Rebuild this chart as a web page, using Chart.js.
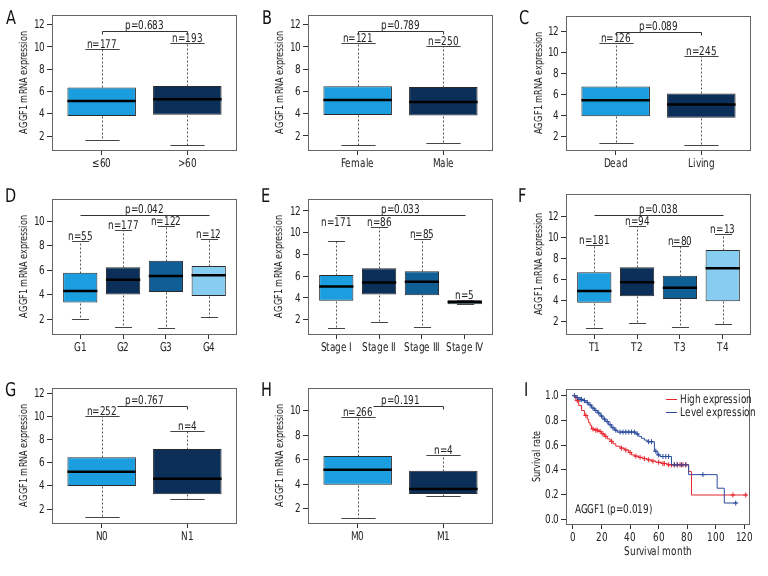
<!DOCTYPE html>
<html lang="en">
<head>
<meta charset="UTF-8">
<title>AGGF1 mRNA expression</title>
<script src="https://cdn.jsdelivr.net/npm/chart.js@4"></script>
<style>
  @font-face {
    font-family: "NarrowFace";
    src: local("Liberation Sans Narrow"), local("LiberationSansNarrow-Regular"),
         local("DejaVu Sans Condensed"), local("DejaVuSansCondensed"), local("DejaVuSans-Condensed");
  }
  body { margin: 0; background: #fff; }
  #wrap { position: relative; width: 768px; height: 576px; overflow: hidden; }
  #wrap canvas { position: absolute; }
  .tag { position: absolute; font-size: 19px; line-height: 20px; color: #111;
         font-family: "NarrowFace", sans-serif; transform: scaleX(0.85); transform-origin: left top; }
</style>
</head>
<body>
<div id="wrap"></div>
<script>
// ---- data: box stats are [min, q1, median, q3, max] ----
const ageGroups = ['≤60', '>60'];
const ageCounts = [177, 193];
const ageBoxes = [[1.61, 3.80, 5.14, 6.37, 9.79], [1.19, 3.91, 5.30, 6.49, 10.38]];

const genderGroups = ['Female', 'Male'];
const genderCounts = [121, 250];
const genderBoxes = [[1.19, 3.89, 5.23, 6.47, 10.36], [1.34, 3.83, 5.05, 6.40, 10.06]];

const statusGroups = ['Dead', 'Living'];
const statusCounts = [126, 245];
const statusBoxes = [[1.30, 3.90, 5.43, 6.73, 10.89], [1.14, 3.74, 5.02, 6.07, 9.65]];

const gradeGroups = ['G1', 'G2', 'G3', 'G4'];
const gradeCounts = [55, 177, 122, 12];
const gradeBoxes = [[2.00, 3.36, 4.31, 5.80, 8.37], [1.37, 4.01, 5.23, 6.24, 9.31],
                    [1.29, 4.23, 5.53, 6.76, 9.59], [2.16, 3.90, 5.59, 6.35, 8.58]];

const stageGroups = ['Stage I', 'Stage II', 'Stage III', 'Stage IV'];
const stageCounts = [171, 86, 85, 5];
const stageBoxes = [[1.26, 3.75, 5.05, 6.10, 9.23], [1.76, 4.31, 5.41, 6.74, 10.55],
                    [1.35, 4.25, 5.48, 6.46, 9.44], [3.42, 3.42, 3.63, 3.79, 3.79]];

const tGroups = ['T1', 'T2', 'T3', 'T4'];
const tCounts = [181, 94, 80, 13];
const tBoxes = [[1.36, 3.77, 4.88, 6.65, 9.25], [1.84, 4.37, 5.70, 7.13, 11.02],
                [1.49, 4.12, 5.19, 6.33, 9.15], [1.77, 3.90, 7.03, 8.77, 10.26]];

const nGroups = ['N0', 'N1'];
const nCounts = [252, 4];
const nBoxes = [[1.28, 3.99, 5.22, 6.47, 10.01], [2.84, 3.27, 4.62, 7.19, 8.74]];

const mGroups = ['M0', 'M1'];
const mCounts = [266, 4];
const mBoxes = [[1.22, 3.96, 5.18, 6.30, 9.51], [3.01, 3.20, 3.61, 5.10, 6.36]];

const pValues = ['0.683', '0.789', '0.089', '0.042', '0.033', '0.038', '0.767', '0.191'];
const ticksTo12 = [2, 4, 6, 8, 10, 12];
const ticksTo10 = [2, 4, 6, 8, 10];

// survival curves: event times (months) and survival after each event
const highTimes = [0, 2, 4, 6, 8, 10, 11, 12, 13, 15, 18, 20, 22, 24, 26, 28, 30, 33, 36, 39, 41, 43, 46, 49, 52, 55, 58, 62, 66, 81, 83, 122];
const highSurv  = [1.0, 0.96, 0.92, 0.88, 0.84, 0.81, 0.78, 0.76, 0.73, 0.72, 0.71, 0.69, 0.67, 0.65, 0.63, 0.61, 0.59, 0.575, 0.56, 0.54, 0.52, 0.51, 0.50, 0.49, 0.48, 0.47, 0.46, 0.45, 0.44, 0.385, 0.195, 0.195];
const lowTimes  = [0, 2, 4, 7, 9, 11, 13, 15, 17, 19, 21, 23, 25, 27, 29, 31, 44, 46, 48, 50, 52, 57, 59, 61, 69, 81, 101, 106, 115];
const lowSurv   = [1.0, 0.985, 0.97, 0.96, 0.945, 0.925, 0.90, 0.88, 0.86, 0.835, 0.81, 0.79, 0.765, 0.74, 0.72, 0.705, 0.69, 0.67, 0.655, 0.64, 0.627, 0.55, 0.52, 0.507, 0.44, 0.36, 0.25, 0.13, 0.13];
const highCensor = [3, 9, 14, 16, 17, 19, 21, 23, 27, 34, 37, 40, 44, 47, 50, 53, 56, 60, 63, 64, 67, 69, 71, 73, 75, 77, 79, 112, 121];
const lowCensor  = [1, 3, 5, 6, 8, 10, 12, 14, 16, 18, 20, 22, 24, 26, 28, 30, 33, 35, 37, 39, 41, 43, 45, 53, 55, 58, 60, 63, 65, 67, 71, 73, 76, 79, 91, 114];
const monthTicks = [0, 20, 40, 60, 80, 100, 120];
const rateTicks = [0, 0.2, 0.4, 0.6, 0.8, 1.0];

// ---- look ----
const FONT = 'NarrowFace, "DejaVu Sans", sans-serif';
const SQUEEZE = 0.82;          // the original uses a condensed face
const INK = '#222';
const palette = ['#1b9ee0', '#0b2f58', '#0f5f96', '#86cdf1'];
const RED = '#e8262e', BLUE = '#2c4c9c';

const panels = [
  {tag: 'A', col: 0, row: 0, frame: [52, 15, 237, 150], y: [0.75, 12.87], labels: ageGroups, counts: ageCounts, boxes: ageBoxes, yTicks: ticksTo12, p: pValues[0], pY: 11.43, pEnds: 'both', titleX: 24},
  {tag: 'B', col: 1, row: 0, frame: [308, 15, 493, 150], y: [0.74, 12.87], labels: genderGroups, counts: genderCounts, boxes: genderBoxes, yTicks: ticksTo12, p: pValues[1], pY: 11.43, pEnds: 'both', titleX: 24},
  {tag: 'C', col: 2, row: 0, frame: [566, 16, 751, 150], y: [0.67, 13.46], labels: statusGroups, counts: statusCounts, boxes: statusBoxes, yTicks: ticksTo12, p: pValues[2], pY: 11.93, pEnds: 'both', titleX: 27},
  {tag: 'D', col: 0, row: 1, frame: [52, 199, 237, 334], y: [0.8, 11.8], labels: gradeGroups, counts: gradeCounts, boxes: gradeBoxes, yTicks: ticksTo10, p: pValues[3], pY: 10.49, pEnds: 'none', titleX: 24},
  {tag: 'E', col: 1, row: 1, frame: [308, 199, 493, 334], y: [0.68, 13.1], labels: stageGroups, counts: stageCounts, boxes: stageBoxes, yTicks: ticksTo12, p: pValues[4], pY: 11.63, pEnds: 'none', labelAt: [10.55], titleX: 23},
  {tag: 'F', col: 2, row: 1, frame: [566, 194, 751, 334], y: [0.79, 14.1], labels: tGroups, counts: tCounts, boxes: tBoxes, yTicks: ticksTo12, p: pValues[5], pY: 12.07, pEnds: 'none', titleX: 27},
  {tag: 'G', col: 0, row: 2, frame: [52, 388, 237, 523], y: [0.79, 12.46], labels: nGroups, counts: nCounts, boxes: nBoxes, yTicks: ticksTo12, p: pValues[6], pY: 10.93, pEnds: 'right', pFrom: 1.18, titleX: 24},
  {tag: 'H', col: 1, row: 2, frame: [308, 388, 493, 523], y: [0.83, 11.85], labels: mGroups, counts: mCounts, boxes: mBoxes, yTicks: ticksTo10, p: pValues[7], pY: 10.41, pEnds: 'right', pFrom: 1.18, titleX: 24}
];

const tagPos = {A: [6, 7], B: [262, 7], C: [519, 7], D: [5, 185], E: [261, 185], F: [518, 185], G: [5, 379], H: [261, 379], I: [524, 379]};

// condensed text: draw with a horizontal squeeze along the writing direction
function squeezed(ctx, text, x, y, align, baseline, rot) {
  ctx.save();
  ctx.translate(x, y);
  if (rot) ctx.rotate(rot);
  ctx.scale(SQUEEZE, 1);
  ctx.textAlign = align;
  ctx.textBaseline = baseline;
  ctx.fillText(text, 0, 0);
  ctx.restore();
}

// frame round the plot area, tick labels and axis titles
Chart.register({
  id: 'axisText',
  afterDraw(chart, args, o) {
    const {ctx, chartArea: a, scales: {x, y}} = chart;
    ctx.save();
    ctx.strokeStyle = '#666';
    ctx.lineWidth = 1;
    ctx.strokeRect(Math.round(a.left) + 0.5, Math.round(a.top) + 0.5,
                   Math.round(a.right - a.left) - 1, Math.round(a.bottom - a.top));
    ctx.fillStyle = INK;
    ctx.font = '12px ' + FONT;
    const yFmt = o.yFmt || (v => String(v));
    const xFmt = o.xFmt || (v => String(v));
    y.ticks.forEach((t, i) => squeezed(ctx, yFmt(t.value), a.left - 7, y.getPixelForTick(i) + 0.5, 'right', 'middle'));
    x.ticks.forEach((t, i) => squeezed(ctx, xFmt(t.value), x.getPixelForTick(i), a.bottom + 14, 'center', 'middle'));
    ctx.font = '11px ' + FONT;
    if (o.yTitle) squeezed(ctx, o.yTitle, o.titleX, (a.top + a.bottom) / 2, 'center', 'middle', -Math.PI / 2);
    ctx.font = '12px ' + FONT;
    if (o.xTitle) squeezed(ctx, o.xTitle, (a.left + a.right) / 2, o.titleY, 'center', 'middle');
    ctx.restore();
  }
});

// whiskers, staples, medians, n= labels and the p bracket
const boxDecor = {
  id: 'boxDecor',
  afterDatasetsDraw(chart, args, o) {
    const {ctx, scales: {x, y}} = chart;
    const unit = x.getPixelForValue(2) - x.getPixelForValue(1);
    const px = v => Math.round(x.getPixelForValue(v)) + 0.5;
    const py = v => Math.round(y.getPixelForValue(v)) + 0.5;
    const n = o.boxes.length;
    ctx.save();
    ctx.font = '12px ' + FONT;
    ctx.fillStyle = INK;

    // p bracket
    const bx0 = px(o.pFrom || 1), bx1 = px(n), by = py(o.pY);
    ctx.strokeStyle = '#333';
    ctx.lineWidth = 1;
    ctx.beginPath();
    if (o.pEnds === 'both') { ctx.moveTo(bx0, by + 3); ctx.lineTo(bx0, by); }
    else ctx.moveTo(bx0, by);
    ctx.lineTo(bx1, by);
    if (o.pEnds !== 'none') ctx.lineTo(bx1, by + 3);
    ctx.stroke();
    squeezed(ctx, 'p=' + o.p, (x.getPixelForValue(1) + x.getPixelForValue(n)) / 2, by - 2.5, 'center', 'alphabetic');

    o.boxes.forEach((b, i) => {
      const cx = px(i + 1);
      const [lo, q1, med, q3, hi] = b.map(py);
      // n label
      const at = o.labelAt && o.labelAt[i] != null ? py(o.labelAt[i]) : hi;
      squeezed(ctx, 'n=' + o.counts[i], x.getPixelForValue(i + 1), at - 1.5, 'center', 'alphabetic');
      // whiskers
      ctx.strokeStyle = '#555';
      ctx.lineWidth = 1;
      ctx.setLineDash([2, 2]);
      ctx.beginPath();
      ctx.moveTo(cx, q3); ctx.lineTo(cx, hi);
      ctx.moveTo(cx, q1); ctx.lineTo(cx, lo);
      ctx.stroke();
      ctx.setLineDash([]);
      // staples
      const sw = unit * 0.2;
      ctx.strokeStyle = '#444';
      ctx.beginPath();
      ctx.moveTo(cx - sw, hi); ctx.lineTo(cx + sw, hi);
      ctx.moveTo(cx - sw, lo); ctx.lineTo(cx + sw, lo);
      ctx.stroke();
      // median
      const bw = unit * 0.4;
      ctx.strokeStyle = '#000';
      ctx.lineWidth = 2.5;
      ctx.beginPath();
      ctx.moveTo(x.getPixelForValue(i + 1) - bw, y.getPixelForValue(b[2]));
      ctx.lineTo(x.getPixelForValue(i + 1) + bw, y.getPixelForValue(b[2]));
      ctx.stroke();
    });
    ctx.restore();
  }
};

const wrap = document.getElementById('wrap');
function makeCanvas(col, row) {
  const cv = document.createElement('canvas');
  cv.width = 256; cv.height = 192;
  cv.style.left = col * 256 + 'px';
  cv.style.top = row * 192 + 'px';
  wrap.appendChild(cv);
  return cv;
}

function axisBits(extra) {
  return Object.assign({
    grid: {drawOnChartArea: false, drawTicks: true, tickLength: 5, color: '#333', offset: false},
    border: {display: false},
    ticks: {display: false}
  }, extra);
}

function drawBoxPanel(p) {
  const ox = p.col * 256, oy = p.row * 192;
  const [l, t, r, b] = p.frame;
  const n = p.labels.length;
  new Chart(makeCanvas(p.col, p.row), {
    type: 'bar',
    data: {
      datasets: [{
        data: p.boxes.map((s, i) => ({x: i + 1, y: [s[1], s[3]]})),
        backgroundColor: palette.slice(0, n),
        borderColor: '#2a2a2a',
        borderWidth: 1,
        borderSkipped: false,
        categoryPercentage: 1,
        barPercentage: 0.8
      }]
    },
    plugins: [boxDecor],
    options: {
      responsive: false,
      animation: false,
      events: [],
      layout: {padding: {left: 0, top: t - oy, right: ox + 256 - r, bottom: 0}},
      plugins: {
        legend: {display: false},
        tooltip: {enabled: false},
        axisText: {yTitle: 'AGGF1 mRNA expression', titleX: p.titleX, xFmt: v => p.labels[v - 1]},
        boxDecor: {boxes: p.boxes, counts: p.counts, p: p.p, pY: p.pY, pEnds: p.pEnds, pFrom: p.pFrom, labelAt: p.labelAt}
      },
      scales: {
        x: axisBits({
          type: 'linear',
          offset: false,
          min: 0.5 - 0.04 * n,
          max: n + 0.5 + 0.04 * n,
          afterBuildTicks: s => { s.ticks = p.labels.map((_, i) => ({value: i + 1})); },
          afterFit: s => { s.height = oy + 192 - b; }
        }),
        y: axisBits({
          min: p.y[0],
          max: p.y[1],
          afterBuildTicks: s => { s.ticks = p.yTicks.map(v => ({value: v})); },
          afterFit: s => { s.width = l - ox; }
        })
      }
    }
  });
}

// ---- panel I: survival ----
function survAt(times, surv, t) {
  let s = surv[0];
  times.forEach((tt, i) => { if (tt <= t) s = surv[i]; });
  return s;
}

const kmDecor = {
  id: 'kmDecor',
  afterDraw(chart) {
    const {ctx, chartArea: a} = chart;
    ctx.save();
    ctx.font = '12px ' + FONT;
    ctx.fillStyle = INK;
    [['High expression', RED, 10], ['Level expression', BLUE, 23]].forEach(([txt, col, dy]) => {
      ctx.strokeStyle = col;
      ctx.lineWidth = 1;
      ctx.beginPath();
      ctx.moveTo(a.right - 84, Math.round(a.top + dy) + 0.5);
      ctx.lineTo(a.right - 73, Math.round(a.top + dy) + 0.5);
      ctx.stroke();
      squeezed(ctx, txt, a.right - 70, a.top + dy + 1, 'left', 'middle');
    });
    squeezed(ctx, 'AGGF1 (p=0.019)', a.left + 9, a.bottom - 14, 'left', 'middle');
    ctx.restore();
  }
};

function drawSurvival() {
  new Chart(makeCanvas(2, 2), {
    type: 'line',
    data: {
      datasets: [
        {data: lowTimes.map((t, i) => ({x: t, y: lowSurv[i]})), stepped: true, borderColor: BLUE, borderWidth: 1, pointRadius: 0, fill: false},
        {data: highTimes.map((t, i) => ({x: t, y: highSurv[i]})), stepped: true, borderColor: RED, borderWidth: 1, pointRadius: 0, fill: false},
        {type: 'scatter', data: lowCensor.map(t => ({x: t, y: survAt(lowTimes, lowSurv, t)})), pointStyle: 'cross', pointRadius: 2.5, borderColor: BLUE, borderWidth: 1},
        {type: 'scatter', data: highCensor.map(t => ({x: t, y: survAt(highTimes, highSurv, t)})), pointStyle: 'cross', pointRadius: 2.5, borderColor: RED, borderWidth: 1}
      ]
    },
    plugins: [kmDecor],
    options: {
      responsive: false,
      animation: false,
      events: [],
      layout: {padding: {left: 0, top: 4, right: 18, bottom: 0}},
      plugins: {
        legend: {display: false},
        tooltip: {enabled: false},
        axisText: {yTitle: 'Survival rate', titleX: 25, xTitle: 'Survival month', titleY: 168, yFmt: v => v.toFixed(1)}
      },
      scales: {
        x: axisBits({
          type: 'linear', min: -4.9, max: 124,
          afterBuildTicks: s => { s.ticks = monthTicks.map(v => ({value: v})); },
          afterFit: s => { s.height = 52; }
        }),
        y: axisBits({
          min: -0.04, max: 1.054,
          afterBuildTicks: s => { s.ticks = rateTicks.map(v => ({value: v})); },
          afterFit: s => { s.width = 54; }
        })
      }
    }
  });
}

function drawAll() {
  panels.forEach(drawBoxPanel);
  drawSurvival();
  Object.keys(tagPos).forEach(k => {
    const d = document.createElement('div');
    d.className = 'tag';
    d.textContent = k;
    d.style.left = tagPos[k][0] + 'px';
    d.style.top = tagPos[k][1] + 'px';
    wrap.appendChild(d);
  });
}

document.fonts.load('12px NarrowFace').then(drawAll, drawAll);
</script>
</body>
</html>
